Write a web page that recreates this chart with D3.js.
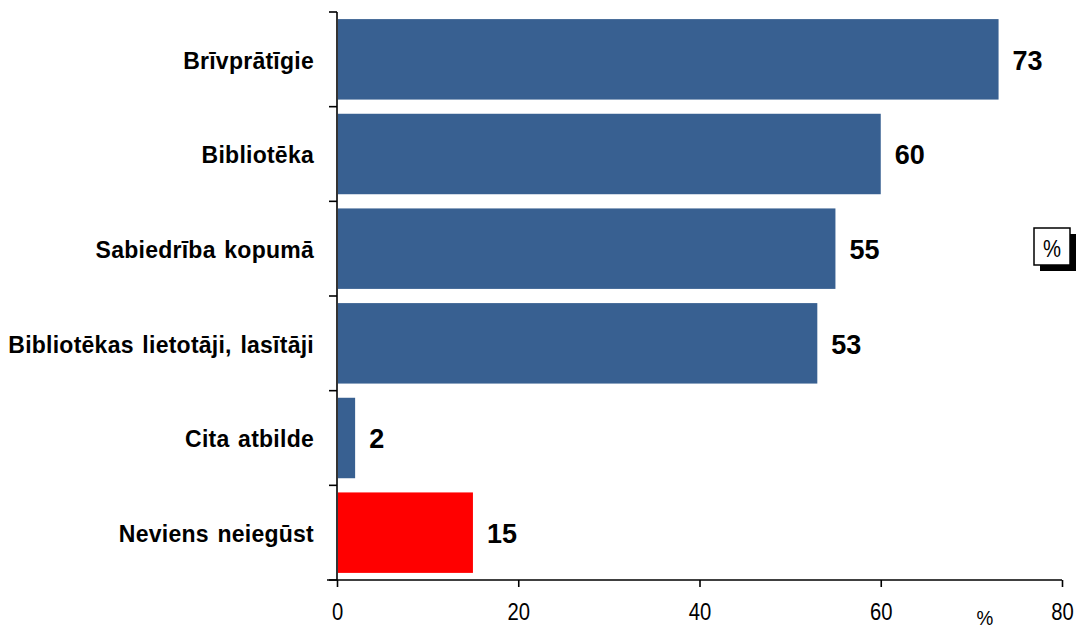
<!DOCTYPE html>
<html>
<head>
<meta charset="utf-8">
<script src="https://cdn.jsdelivr.net/npm/d3@7"></script>
<style>
  html, body { margin: 0; padding: 0; background: #fff; }
  svg { display: block; font-family: "Liberation Sans", Arial, sans-serif; }
</style>
</head>
<body>
<svg id="chart" width="1079" height="630"></svg>
<script>
// Answer categories, top to bottom
const categories = [
  "Brīvprātīgie",
  "Bibliotēka",
  "Sabiedrība kopumā",
  "Bibliotēkas lietotāji, lasītāji",
  "Cita atbilde",
  "Neviens neiegūst"
];
// Share of respondents, %
const values = [73, 60, 55, 53, 2, 15];
// Bar fill per category (the "nobody" answer is highlighted)
const barColors = ["#386091", "#386091", "#386091", "#386091", "#386091", "#ff0000"];
// Horizontal axis ticks
const xTicks = [0, 20, 40, 60, 80];

const svg = d3.select("#chart");
const plotLeft = 337, plotRight = 1062, plotTop = 12, plotBottom = 580;

const x = d3.scaleLinear().domain([0, 80]).range([plotLeft, plotRight]);
const y = d3.scaleBand().domain(categories).range([plotTop, plotBottom])
  .paddingInner(0.15).paddingOuter(0.075);

// Bars
svg.append("g").selectAll("rect")
  .data(values)
  .join("rect")
  .attr("x", x(0) + 1)
  .attr("y", (d, i) => y(categories[i]))
  .attr("width", d => x(d) - x(0) - 1)
  .attr("height", y.bandwidth())
  .attr("fill", (d, i) => barColors[i]);

// Value labels
svg.append("g").selectAll("text")
  .data(values)
  .join("text")
  .attr("x", d => x(d) + 14)
  .attr("y", (d, i) => y(categories[i]) + y.bandwidth() / 2)
  .attr("dy", "0.38em")
  .attr("font-size", 27)
  .attr("font-weight", "bold")
  .attr("fill", "#000")
  .text(d => d);

// Category labels
svg.append("g").selectAll("text")
  .data(categories)
  .join("text")
  .attr("x", 314)
  .attr("y", d => y(d) + y.bandwidth() / 2)
  .attr("dy", "0.4em")
  .attr("text-anchor", "end")
  .attr("font-size", 23)
  .attr("font-weight", "bold")
  .attr("letter-spacing", 0.25)
  .attr("word-spacing", 2)
  .attr("fill", "#000")
  .text(d => d);

// Vertical axis with band-boundary ticks
const yAxis = svg.append("g").attr("stroke", "#000").attr("stroke-width", 1.6);
yAxis.append("line").attr("x1", plotLeft).attr("x2", plotLeft).attr("y1", plotTop).attr("y2", plotBottom);
const bounds = d3.range(categories.length + 1)
  .map(i => plotTop + i * (plotBottom - plotTop) / categories.length);
yAxis.selectAll("line.tick").data(bounds).join("line")
  .attr("class", "tick")
  .attr("x1", plotLeft - 8).attr("x2", plotLeft)
  .attr("y1", d => d).attr("y2", d => d);

// Horizontal axis
const xAxis = svg.append("g")
  .attr("transform", `translate(0,${plotBottom})`)
  .call(d3.axisBottom(x).tickValues(xTicks).tickSize(7).tickPadding(17).tickSizeOuter(0));
xAxis.select(".domain").attr("stroke", "#000").attr("stroke-width", 1.6)
  .attr("d", `M${plotLeft - 10},0H${plotRight}`);
xAxis.selectAll(".tick line").attr("stroke", "#000").attr("stroke-width", 1.6);
xAxis.selectAll(".tick text")
  .attr("font-family", "'Liberation Sans', Arial, sans-serif")
  .attr("font-size", 23)
  .attr("fill", "#000")
  .attr("transform", "scale(0.88,1)");

// Axis unit
svg.append("text")
  .attr("transform", "translate(985,625) scale(0.9,1)")
  .attr("text-anchor", "middle")
  .attr("font-size", 21)
  .attr("fill", "#000")
  .text("%");

// Unit badge with drop shadow
const badge = svg.append("g").attr("transform", "translate(1034,228)");
badge.append("rect").attr("x", 6).attr("y", 6).attr("width", 36).attr("height", 37).attr("fill", "#000");
badge.append("rect").attr("x", 0).attr("y", 0).attr("width", 36).attr("height", 37)
  .attr("fill", "#fff").attr("stroke", "#000").attr("stroke-width", 1.5);
badge.append("text")
  .attr("transform", "translate(18,29) scale(0.88,1)")
  .attr("text-anchor", "middle").attr("font-size", 23).attr("fill", "#000").text("%");
</script>
</body>
</html>
